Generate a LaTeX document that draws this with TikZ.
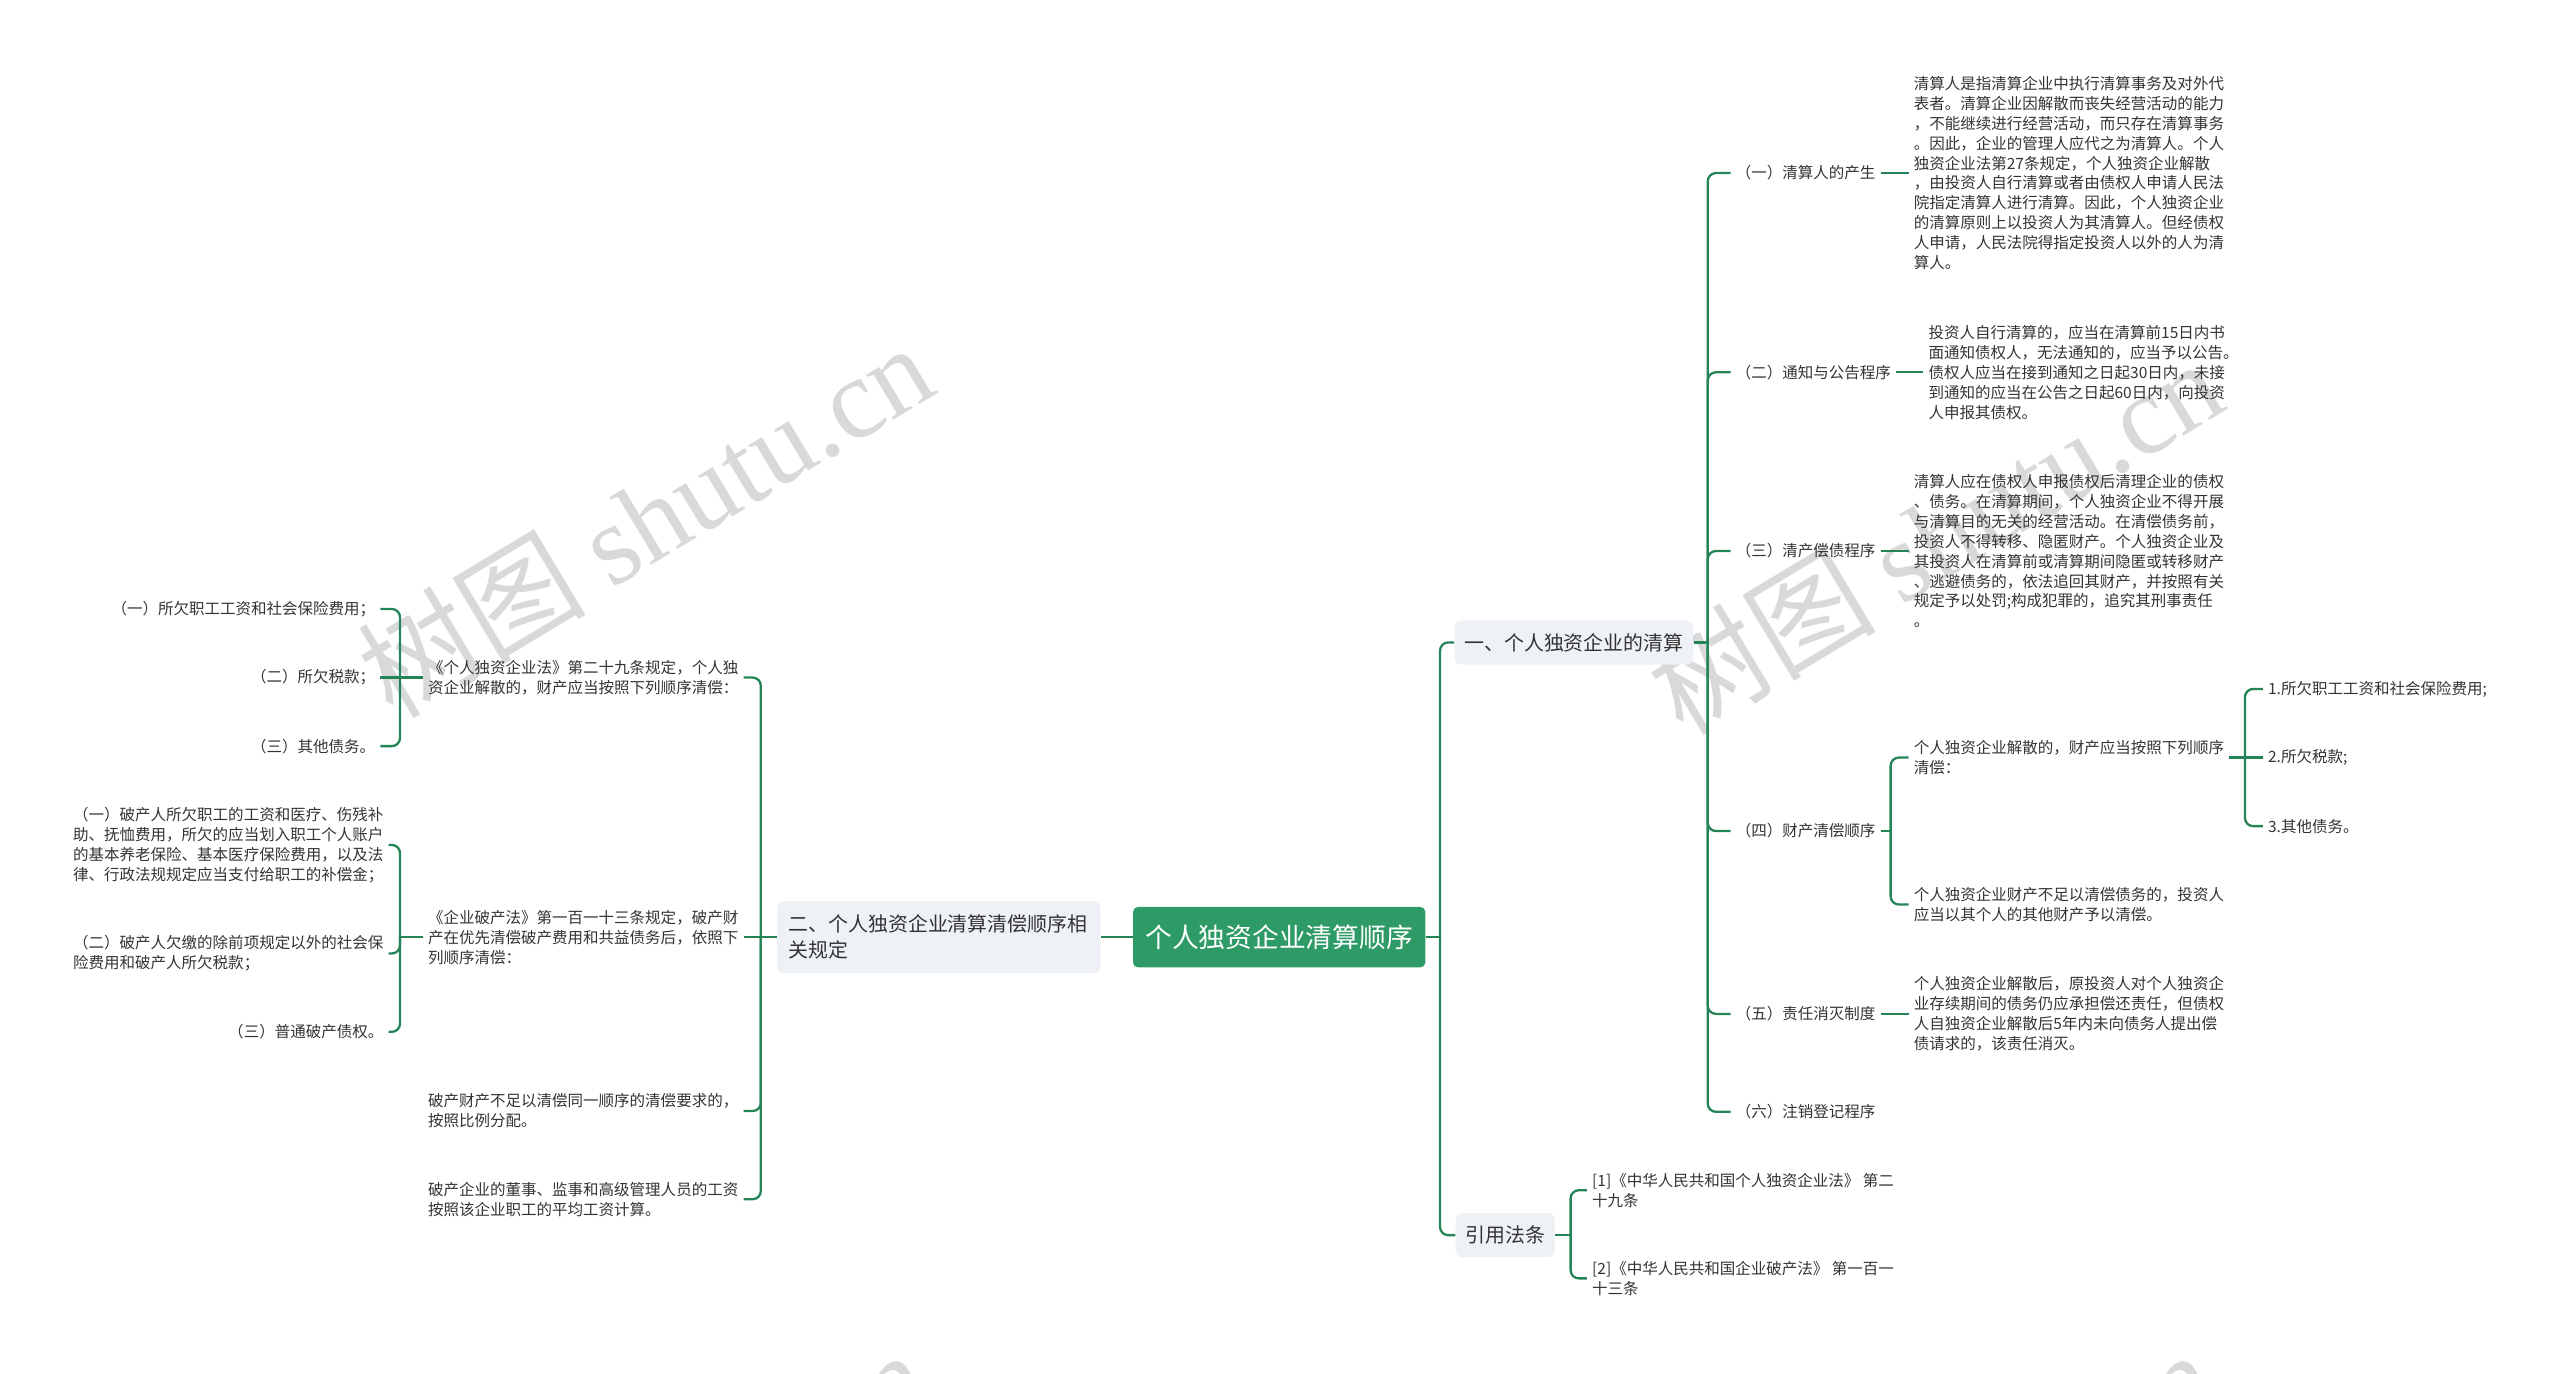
\documentclass[tikz,border=0pt]{standalone}
\usepackage{fontspec}
\setmainfont{Noto Sans CJK SC}
\newfontfamily\wmfont{Liberation Serif}
\usepackage{xcolor}
\usepackage{tikz}
\usetikzlibrary{positioning,calc}

\definecolor{mmgreen}{RGB}{36,132,88}
\definecolor{mmroot}{RGB}{46,155,102}
\definecolor{mmgray}{RGB}{238,241,245}
\definecolor{mmtext}{RGB}{51,51,51}

\begin{document}
\begin{tikzpicture}[
  x=1pt, y=-1pt,
  every node/.style={text=mmtext},
  sm/.style={font=\fontsize{9.5}{12.2}\selectfont, align=left, inner xsep=3pt, inner ysep=1pt},
  topic/.style={fill=mmgray, rounded corners=4pt, font=\fontsize{12.2}{16}\selectfont,
    minimum height=27pt, inner xsep=6pt, align=left},
  rootbox/.style={fill=mmroot, rounded corners=3pt, text=white,
    font=\fontsize{16.4}{20}\selectfont, minimum height=37pt, minimum width=179pt},
  e/.style={draw=mmgreen, line width=1.4pt},
  ec/.style={e, rounded corners=5pt},
  wm/.style={font=\fontsize{70}{70}\selectfont, text=black!15, rotate=31},
]
\clip (0,0) rectangle (1568,841);

% watermark
\node[wm] (wm1) at (395,318) {树图 {\wmfont shutu.cn}};
\node[wm] (wm2) at (1185,328) {树图 {\wmfont shutu.cn}};
\node[wm] (wm3) at (392,935) {树图 {\wmfont shutu.cn}};
\node[wm] (wm4) at (1180,935) {树图 {\wmfont shutu.cn}};

% centre and main topics
\node[rootbox] (root) at (783.5,574) {个人独资企业清算顺序};
\node[topic] (b1) at (964,393.5) {一、个人独资企业的清算};
\node[topic] (b2) at (922,756.5) {引用法条};
\node[topic, text width=184pt, inner xsep=7pt, minimum height=44pt] (b3) at (575,574)
  {二、个人独资企业清算清偿顺序相\\关规定};

% right side
\node[sm, anchor=west] (r1) at (1060,106) {（一）清算人的产生};
\node[sm, anchor=west] (r2) at (1060,228) {（二）通知与公告程序};
\node[sm, anchor=west] (r3) at (1060,337.5) {（三）清产偿债程序};
\node[sm, anchor=west] (r4) at (1060,509) {（四）财产清偿顺序};
\node[sm, anchor=west] (r5) at (1060,621) {（五）责任消灭制度};
\node[sm, anchor=west] (r6) at (1060,681) {（六）注销登记程序};

\node[sm, anchor=west] (r1n) at (1169,106) {清算人是指清算企业中执行清算事务及对外代\\
表者。清算企业因解散而丧失经营活动的能力\\
，不能继续进行经营活动，而只存在清算事务\\
。因此，企业的管理人应代之为清算人。个人\\
独资企业法第27条规定，个人独资企业解散\\
，由投资人自行清算或者由债权人申请人民法\\
院指定清算人进行清算。因此，个人独资企业\\
的清算原则上以投资人为其清算人。但经债权\\
人申请，人民法院得指定投资人以外的人为清\\
算人。};
\node[sm, anchor=west] (r2n) at (1178,228) {投资人自行清算的，应当在清算前15日内书\\
面通知债权人，无法通知的，应当予以公告。\\
债权人应当在接到通知之日起30日内，未接\\
到通知的应当在公告之日起60日内，向投资\\
人申报其债权。};
\node[sm, anchor=west] (r3n) at (1169,337.5) {清算人应在债权人申报债权后清理企业的债权\\
、债务。在清算期间，个人独资企业不得开展\\
与清算目的无关的经营活动。在清偿债务前，\\
投资人不得转移、隐匿财产。个人独资企业及\\
其投资人在清算前或清算期间隐匿或转移财产\\
、逃避债务的，依法追回其财产，并按照有关\\
规定予以处罚;构成犯罪的，追究其刑事责任\\
。};
\node[sm, anchor=west] (r4a) at (1169,464) {个人独资企业解散的，财产应当按照下列顺序\\清偿：};
\node[sm, anchor=west] (r4b) at (1169,554) {个人独资企业财产不足以清偿债务的，投资人\\应当以其个人的其他财产予以清偿。};
\node[sm, anchor=west] (r5n) at (1169,621) {个人独资企业解散后，原投资人对个人独资企\\
业存续期间的债务仍应承担偿还责任，但债权\\
人自独资企业解散后5年内未向债务人提出偿\\
债请求的，该责任消灭。};

\node[sm, anchor=west] (q1) at (1386,422) {1.所欠职工工资和社会保险费用;};
\node[sm, anchor=west] (q2) at (1386,464) {2.所欠税款;};
\node[sm, anchor=west] (q3) at (1386,506) {3.其他债务。};

\node[sm, anchor=west] (c1) at (972,729) {[1]《中华人民共和国个人独资企业法》 第二\\十九条};
\node[sm, anchor=west] (c2) at (972,783) {[2]《中华人民共和国企业破产法》 第一百一\\十三条};

% left side
\node[sm, anchor=west] (l1) at (259,415) {《个人独资企业法》第二十九条规定，个人独\\资企业解散的，财产应当按照下列顺序清偿：};
\node[sm, anchor=west] (l2) at (259,574) {《企业破产法》第一百一十三条规定，破产财\\产在优先清偿破产费用和共益债务后，依照下\\列顺序清偿：};
\node[sm, anchor=west] (l3) at (259,680.5) {破产财产不足以清偿同一顺序的清偿要求的，\\按照比例分配。};
\node[sm, anchor=west] (l4) at (259,734.5) {破产企业的董事、监事和高级管理人员的工资\\按照该企业职工的平均工资计算。};

\node[sm, anchor=east] (a1) at (233,373) {（一）所欠职工工资和社会保险费用；};
\node[sm, anchor=east] (a2) at (233,415) {（二）所欠税款；};
\node[sm, anchor=east] (a3) at (233,457) {（三）其他债务。};

\node[sm, anchor=east] (d1) at (238,517.5) {（一）破产人所欠职工的工资和医疗、伤残补\\
助、抚恤费用，所欠的应当划入职工个人账户\\
的基本养老保险、基本医疗保险费用，以及法\\
律、行政法规规定应当支付给职工的补偿金；};
\node[sm, anchor=east] (d2) at (238,584) {（二）破产人欠缴的除前项规定以外的社会保\\险费用和破产人所欠税款；};
\node[sm, anchor=east] (d3) at (238,632) {（三）普通破产债权。};

% junctions
\coordinate (j0) at (882,574);
\coordinate (j1) at (466,574);
\coordinate (j2) at (1046,393.5);
\coordinate (j3) at (1158,509);
\coordinate (j4) at (1375,464);
\coordinate (j5) at (962,756.5);
\coordinate (j6) at (245,415);
\coordinate (j7) at (245,574);

% connectors
\draw[e] (root.east) -- (j0);
\draw[ec] (j0) |- (b1.west);
\draw[ec] (j0) |- (b2.west);
\draw[e] (root.west) -- (b3.east);

\draw[e] (b3.west) -- (j1);
\draw[e] (j1) -- (l2.east);
\foreach \n in {l1,l3,l4}
  \draw[ec] (j1) |- (\n.east);

\draw[e] (b1.east) -- (j2);
\foreach \n in {r1,r2,r3,r4,r5,r6}
  \draw[ec] (j2) |- (\n.west);
\foreach \a/\b in {r1/r1n,r2/r2n,r3/r3n,r5/r5n}
  \draw[e] (\a.east) -- (\a.east -| \b.west);

\draw[e] (r4.east) -- (j3);
\draw[ec] (j3) |- (r4a.west);
\draw[ec] (j3) |- (r4b.west);

\draw[e] (r4a.east) -- (j4);
\draw[e] (j4) -- (q2.west);
\draw[ec] (j4) |- (q1.west);
\draw[ec] (j4) |- (q3.west);

\draw[e] (b2.east) -- (j5);
\draw[ec] (j5) |- (c1.west);
\draw[ec] (j5) |- (c2.west);

\draw[e] (l1.west) -- (j6);
\draw[e] (j6) -- (a2.east);
\draw[ec] (j6) |- (a1.east);
\draw[ec] (j6) |- (a3.east);

\draw[e] (l2.west) -- (j7);
\draw[ec] (j7) |- (d1.east);
\draw[ec] (j7) |- (d2.east);
\draw[ec] (j7) |- (d3.east);
\end{tikzpicture}
\end{document}
